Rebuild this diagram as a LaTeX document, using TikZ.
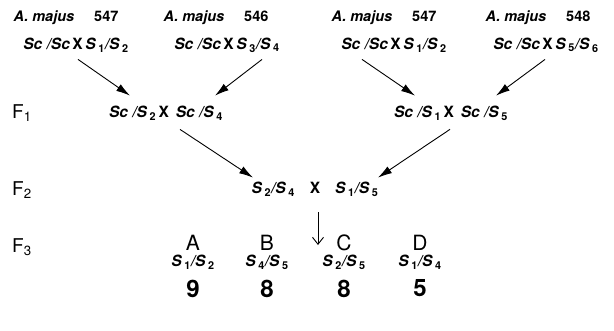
\documentclass[tikz,border=0pt]{standalone}
\usepackage{fontspec}
\setmainfont{TeX Gyre Heros}
\usetikzlibrary{arrows.meta,positioning}
\newcommand{\Sx}[1]{\textit{S}\,\textsubscript{\upshape #1}}
\newcommand{\kx}{\,\textbf{\upshape X}\,}
\tikzset{
  fej/.style={font=\fontsize{14.5}{16}\selectfont\bfseries,inner sep=1pt},
  gen/.style={font=\fontsize{15.5}{17}\selectfont\bfseries\itshape,inner sep=1pt},
  nemz/.style={font=\fontsize{19}{21}\selectfont,inner sep=1pt},
  betu/.style={font=\fontsize{21}{22}\selectfont,inner sep=1pt},
  szam/.style={font=\fontsize{24}{26}\selectfont\bfseries,inner sep=1pt},
  nyil/.style={-{Latex[length=14pt,width=8pt]},line width=0.9pt},
  lenyil/.style={-{Straight Barb[length=7pt,width=11pt]},line width=0.9pt},
}
\begin{document}
\begin{tikzpicture}[x=1pt,y=-1pt]
  \useasboundingbox (0,0) rectangle (614,330);
  % szulok
  \node[fej] (h1) at (66,18) {\textit{A. majus}\hspace{20pt}547};
  \node[fej] (h2) at (216,18) {\textit{A. majus}\hspace{20pt}546};
  \node[fej] (h3) at (384,18) {\textit{A. majus}\hspace{20pt}547};
  \node[fej] (h4) at (538,18) {\textit{A. majus}\hspace{20pt}548};
  \node[gen] (p1) at (76,45) {Sc /Sc\kx\Sx{1}/\Sx{2}};
  \node[gen] (p2) at (227,45) {Sc /Sc\kx\Sx{3}/\Sx{4}};
  \node[gen] (p3) at (394,45) {Sc /Sc\kx\Sx{1}/\Sx{2}};
  \node[gen] (p4) at (546,45) {Sc /Sc\kx\Sx{5}/\Sx{6}};
  % nemzedekek
  \node[nemz] (F1) at (22,113) {F\textsubscript{1}};
  \node[nemz] (F2) at (22,190) {F\textsubscript{2}};
  \node[nemz] (F3) at (22,247) {F\textsubscript{3}};
  \node[gen] (f1a) at (166,113) {Sc /\Sx{2}\kx\ Sc /\Sx{4}};
  \node[gen] (f1b) at (451,113) {Sc /\Sx{1}\kx\ Sc /\Sx{5}};
  \node[gen] (f2) at (315,189) {\Sx{2}/\Sx{4}\hspace{15pt}\textbf{\upshape X}\hspace{15pt}\Sx{1}/\Sx{5}};
  % utodok
  \node[betu] (A) at (193,243) {A};
  \node[betu] (B) at (267,243) {B};
  \node[betu] (C) at (344,243) {C};
  \node[betu] (D) at (420,243) {D};
  \node[gen,below=2pt of A] (sA) {\Sx{1}/\Sx{2}};
  \node[gen,below=2pt of B] (sB) {\Sx{4}/\Sx{5}};
  \node[gen,below=2pt of C] (sC) {\Sx{2}/\Sx{5}};
  \node[gen,below=2pt of D] (sD) {\Sx{1}/\Sx{4}};
  \node[szam,below=8pt of sA] (nA) {9};
  \node[szam,below=8pt of sB] (nB) {8};
  \node[szam,below=8pt of sC] (nC) {8};
  \node[szam,below=8pt of sD] (nD) {5};
  \coordinate (lefent) at (318,212);
  \coordinate (lelent) at (318,245);
  % nyilak
  \draw[nyil] ([xshift=2pt,yshift=-6pt]p1.south) -- ([xshift=-36pt,yshift=9pt]f1a.north);
  \draw[nyil] ([xshift=35pt,yshift=-6pt]p2.south) -- ([xshift=49pt,yshift=9pt]f1a.north);
  \draw[nyil] ([xshift=-32pt,yshift=-6pt]p3.south) -- ([xshift=-36pt,yshift=9pt]f1b.north);
  \draw[nyil] ([xshift=-1pt,yshift=-6pt]p4.south) -- ([xshift=45pt,yshift=9pt]f1b.north);
  \draw[nyil] ([xshift=14pt,yshift=-8pt]f1a.south) -- ([xshift=-62pt,yshift=3pt]f2.north);
  \draw[nyil] ([xshift=-1pt,yshift=-8pt]f1b.south) -- ([xshift=63pt,yshift=3pt]f2.north);
  \draw[lenyil] (lefent) -- (lelent);
\end{tikzpicture}
\end{document}
